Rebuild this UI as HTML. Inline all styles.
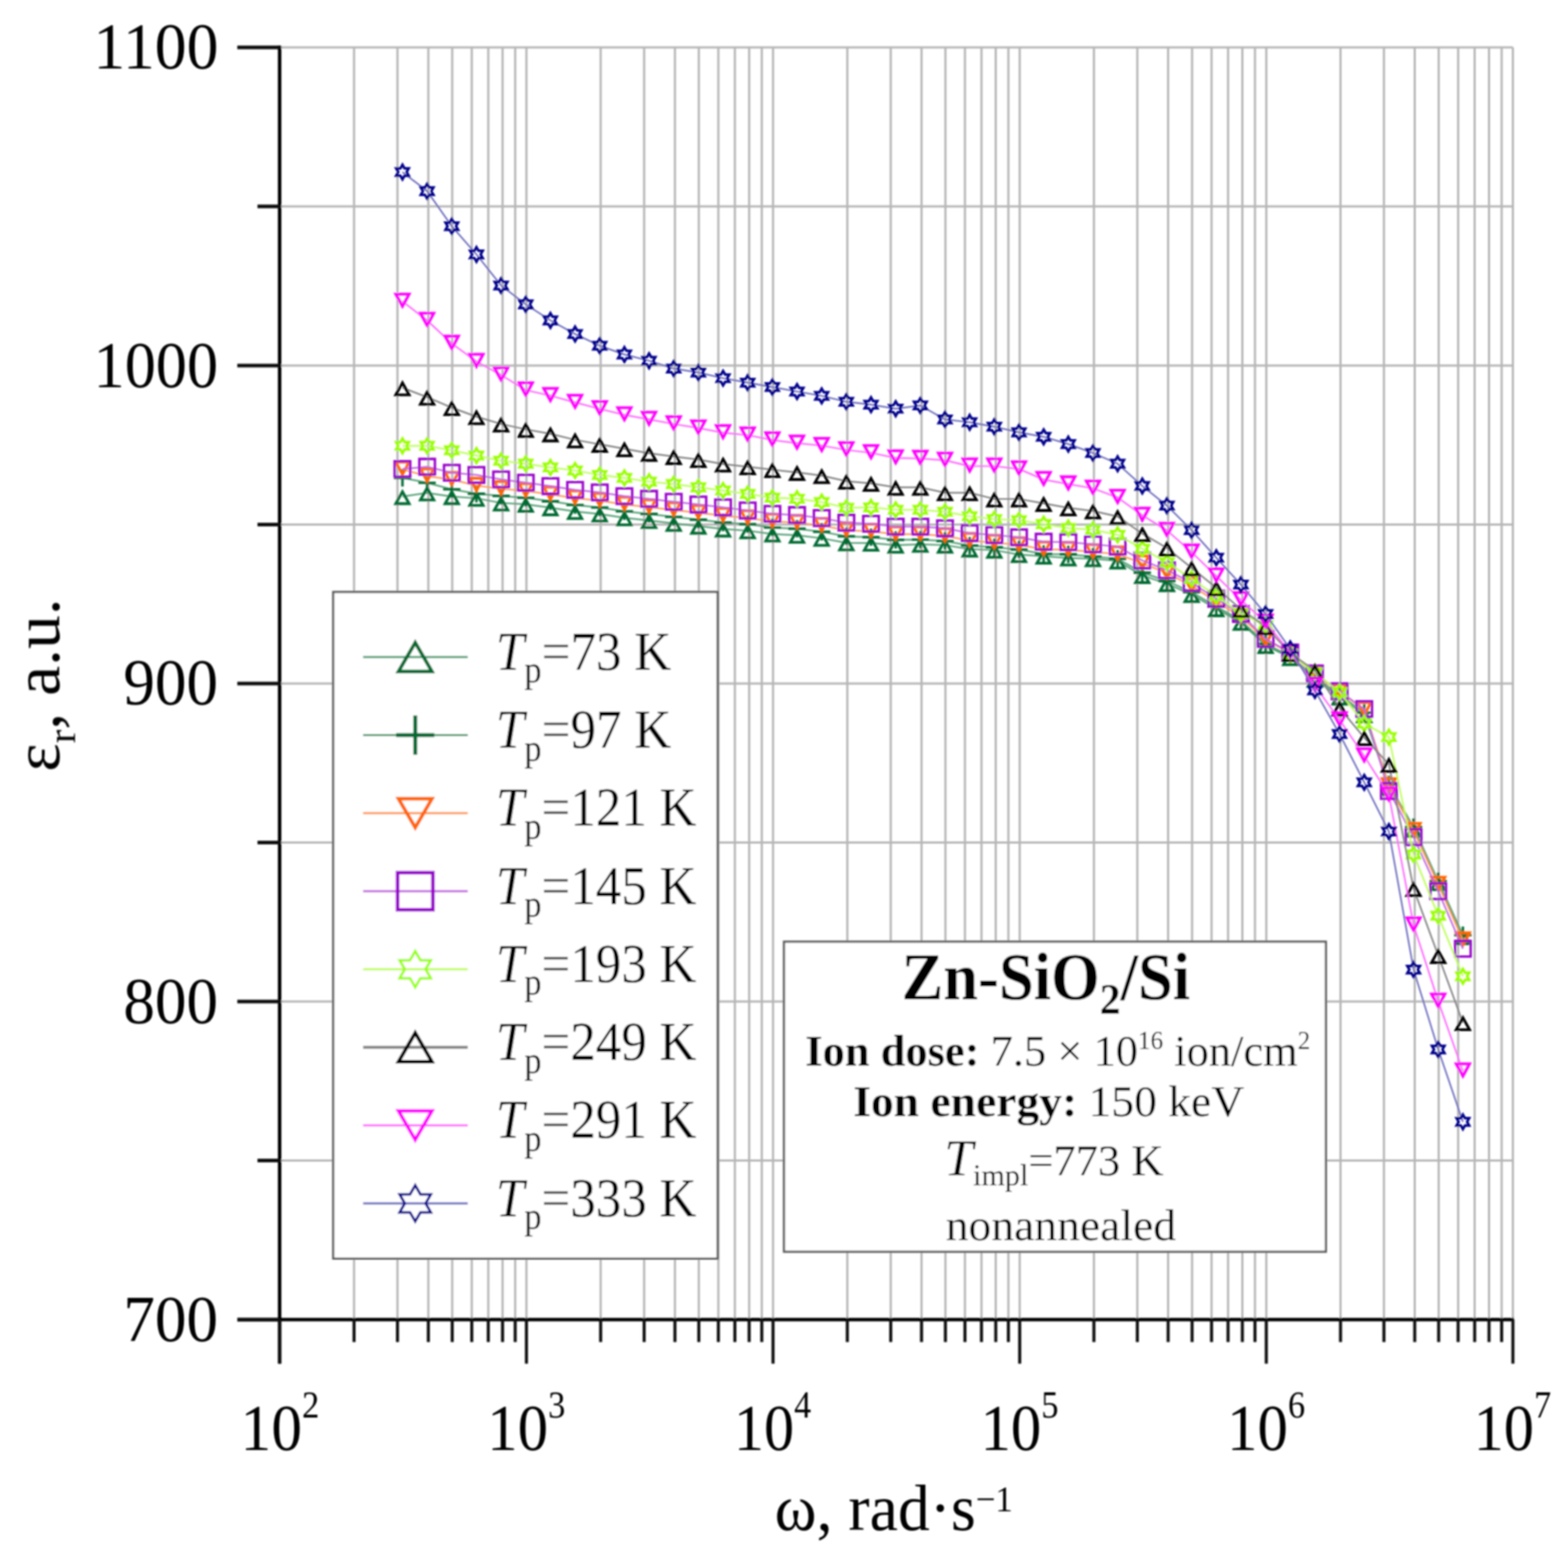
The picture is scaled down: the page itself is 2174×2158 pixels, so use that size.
<!DOCTYPE html><html><head><meta charset="utf-8"><style>html,body{margin:0;padding:0;background:#fff;overflow:hidden;width:2174px;height:2158px;}svg{display:block;}text{font-family:"Liberation Serif","Times New Roman",serif;}</style></head><body>
<svg width="2174" height="2158" viewBox="0 0 2174 2158">
<rect x="0" y="0" width="2174" height="2158" fill="#fff"/>
<defs><filter id="bl" filterUnits="userSpaceOnUse" x="0" y="0" width="2174" height="2158"><feGaussianBlur stdDeviation="1.0"/></filter></defs><g filter="url(#bl)">
<path d="M490.9 65.8V1830.2M551.1 65.8V1830.2M593.9 65.8V1830.2M627.0 65.8V1830.2M654.1 65.8V1830.2M677.0 65.8V1830.2M696.8 65.8V1830.2M714.3 65.8V1830.2M729.9 65.8V1830.2M832.8 65.8V1830.2M893.1 65.8V1830.2M935.8 65.8V1830.2M968.9 65.8V1830.2M996.0 65.8V1830.2M1018.9 65.8V1830.2M1038.7 65.8V1830.2M1056.2 65.8V1830.2M1071.8 65.8V1830.2M1174.8 65.8V1830.2M1235.0 65.8V1830.2M1277.7 65.8V1830.2M1310.8 65.8V1830.2M1337.9 65.8V1830.2M1360.8 65.8V1830.2M1380.6 65.8V1830.2M1398.1 65.8V1830.2M1413.8 65.8V1830.2M1516.7 65.8V1830.2M1576.9 65.8V1830.2M1619.6 65.8V1830.2M1652.8 65.8V1830.2M1679.8 65.8V1830.2M1702.7 65.8V1830.2M1722.5 65.8V1830.2M1740.0 65.8V1830.2M1755.7 65.8V1830.2M1858.6 65.8V1830.2M1918.8 65.8V1830.2M1961.5 65.8V1830.2M1994.7 65.8V1830.2M2021.7 65.8V1830.2M2044.6 65.8V1830.2M2064.5 65.8V1830.2M2082.0 65.8V1830.2M2097.6 65.8V1830.2M388.0 1609.6H2097.6M388.0 1389.1H2097.6M388.0 1168.5H2097.6M388.0 948.0H2097.6M388.0 727.4H2097.6M388.0 506.9H2097.6M388.0 286.3H2097.6M388.0 65.8H2097.6" stroke="#b6b6b6" stroke-width="3.0" fill="none"/>
<path d="M387.7 63.3V1891.1999999999998M329.0 1830.2H2099.1000000000004" stroke="#000" stroke-width="4.8" fill="none"/>
<path d="M329.0 1830.2H388.0M329.0 1389.1H388.0M329.0 948.0H388.0M329.0 506.9H388.0M329.0 65.8H388.0M357.0 1609.6H388.0M357.0 1168.5H388.0M357.0 727.4H388.0M357.0 286.3H388.0" stroke="#111" stroke-width="5" fill="none"/>
<path d="M388.0 1830.2V1891.2M729.9 1830.2V1891.2M1071.8 1830.2V1891.2M1413.8 1830.2V1891.2M1755.7 1830.2V1891.2M2097.6 1830.2V1891.2M490.9 1830.2V1861.2M551.1 1830.2V1861.2M593.9 1830.2V1861.2M627.0 1830.2V1861.2M654.1 1830.2V1861.2M677.0 1830.2V1861.2M696.8 1830.2V1861.2M714.3 1830.2V1861.2M832.8 1830.2V1861.2M893.1 1830.2V1861.2M935.8 1830.2V1861.2M968.9 1830.2V1861.2M996.0 1830.2V1861.2M1018.9 1830.2V1861.2M1038.7 1830.2V1861.2M1056.2 1830.2V1861.2M1174.8 1830.2V1861.2M1235.0 1830.2V1861.2M1277.7 1830.2V1861.2M1310.8 1830.2V1861.2M1337.9 1830.2V1861.2M1360.8 1830.2V1861.2M1380.6 1830.2V1861.2M1398.1 1830.2V1861.2M1516.7 1830.2V1861.2M1576.9 1830.2V1861.2M1619.6 1830.2V1861.2M1652.8 1830.2V1861.2M1679.8 1830.2V1861.2M1702.7 1830.2V1861.2M1722.5 1830.2V1861.2M1740.0 1830.2V1861.2M1858.6 1830.2V1861.2M1918.8 1830.2V1861.2M1961.5 1830.2V1861.2M1994.7 1830.2V1861.2M2021.7 1830.2V1861.2M2044.6 1830.2V1861.2M2064.5 1830.2V1861.2M2082.0 1830.2V1861.2" stroke="#111" stroke-width="4.2" fill="none"/>
<text x="170.94" y="1859.70" font-size="92" transform="translate(170.94 0) scale(0.9523 1) translate(-170.94 0)">700</text>
<text x="170.94" y="1418.60" font-size="92" transform="translate(170.94 0) scale(0.9523 1) translate(-170.94 0)">800</text>
<text x="170.94" y="977.50" font-size="92" transform="translate(170.94 0) scale(0.9523 1) translate(-170.94 0)">900</text>
<text x="129.80" y="536.70" font-size="92" transform="translate(129.80 0) scale(0.9376 1) translate(-129.80 0)">1000</text>
<text x="129.52" y="95.30" font-size="92" transform="translate(129.52 0) scale(0.9604 1) translate(-129.52 0)">1100</text>
<text x="333.60" y="2011.00" font-size="92" transform="translate(333.60 0) scale(0.9252 1) translate(-333.60 0)">10<tspan dy="-44.7" font-size="52">2</tspan></text>
<text x="675.59" y="2011.00" font-size="92" transform="translate(675.59 0) scale(0.9167 1) translate(-675.59 0)">10<tspan dy="-44.7" font-size="52">3</tspan></text>
<text x="1017.57" y="2011.00" font-size="92" transform="translate(1017.57 0) scale(0.9083 1) translate(-1017.57 0)">10<tspan dy="-44.7" font-size="52">4</tspan></text>
<text x="1359.43" y="2011.00" font-size="92" transform="translate(1359.43 0) scale(0.9167 1) translate(-1359.43 0)">10<tspan dy="-44.7" font-size="52">5</tspan></text>
<text x="1701.35" y="2011.00" font-size="92" transform="translate(1701.35 0) scale(0.9167 1) translate(-1701.35 0)">10<tspan dy="-44.7" font-size="52">6</tspan></text>
<text x="2043.33" y="2011.00" font-size="92" transform="translate(2043.33 0) scale(0.9083 1) translate(-2043.33 0)">10<tspan dy="-44.7" font-size="52">7</tspan></text>
<text x="1074.12" y="2121.80" font-size="91" transform="translate(1074.12 0) scale(0.9701 1) translate(-1074.12 0)">ω, rad·s<tspan dy="-26" font-size="50">−1</tspan></text>
<text transform="translate(82 950) rotate(-90) scale(1.03 1)" font-size="91" text-anchor="middle">ε<tspan dy="22" font-size="55">r</tspan><tspan dy="-22">, a.u.</tspan></text>
<polyline points="558.0,688.7 592.2,683.6 626.4,688.7 660.6,691.0 694.8,697.5 729.0,699.4 763.2,704.2 797.3,709.4 831.5,712.9 865.7,718.1 899.9,721.8 934.1,725.9 968.3,729.7 1002.5,733.7 1036.7,736.0 1070.9,740.6 1105.1,742.3 1139.3,746.5 1173.5,752.8 1207.6,753.2 1241.8,756.1 1276.0,754.9 1310.2,756.0 1344.4,761.5 1378.6,763.0 1412.8,769.1 1447.0,771.3 1481.2,773.8 1515.4,774.9 1549.6,778.0 1583.8,798.2 1618.0,809.5 1652.1,824.6 1686.3,844.2 1720.5,863.2 1754.7,895.3 1788.9,912.0 1823.1,942.0 1857.3,966.7 1891.5,991.4 1925.7,1092.0 1959.9,1150.0 1994.1,1224.0 2028.3,1299.0" fill="none" stroke="#4f9e72" stroke-width="2.2"/>
<path d="M558.00 681.89L567.30 698.49L548.70 698.49ZM592.19 676.79L601.49 693.39L582.89 693.39ZM626.38 681.89L635.68 698.49L617.08 698.49ZM660.58 684.19L669.88 700.79L651.28 700.79ZM694.77 690.69L704.07 707.29L685.47 707.29ZM728.96 692.59L738.26 709.19L719.66 709.19ZM763.15 697.39L772.45 713.99L753.85 713.99ZM797.34 702.59L806.64 719.19L788.04 719.19ZM831.54 706.09L840.84 722.69L822.24 722.69ZM865.73 711.29L875.03 727.89L856.43 727.89ZM899.92 714.99L909.22 731.59L890.62 731.59ZM934.11 719.09L943.41 735.69L924.81 735.69ZM968.30 722.89L977.60 739.49L959.00 739.49ZM1002.50 726.89L1011.80 743.49L993.20 743.49ZM1036.69 729.19L1045.99 745.79L1027.39 745.79ZM1070.88 733.79L1080.18 750.39L1061.58 750.39ZM1105.07 735.49L1114.37 752.09L1095.77 752.09ZM1139.26 739.69L1148.56 756.29L1129.96 756.29ZM1173.46 745.99L1182.76 762.59L1164.16 762.59ZM1207.65 746.43L1216.95 763.03L1198.35 763.03ZM1241.84 749.26L1251.14 765.86L1232.54 765.86ZM1276.03 748.09L1285.33 764.69L1266.73 764.69ZM1310.22 749.23L1319.52 765.83L1300.92 765.83ZM1344.42 754.66L1353.72 771.26L1335.12 771.26ZM1378.61 756.19L1387.91 772.79L1369.31 772.79ZM1412.80 762.29L1422.10 778.89L1403.50 778.89ZM1446.99 764.49L1456.29 781.09L1437.69 781.09ZM1481.18 766.99L1490.48 783.59L1471.88 783.59ZM1515.38 768.09L1524.68 784.69L1506.08 784.69ZM1549.57 771.19L1558.87 787.79L1540.27 787.79ZM1583.76 791.39L1593.06 807.99L1574.46 807.99ZM1617.95 802.66L1627.25 819.26L1608.65 819.26ZM1652.14 817.83L1661.44 834.43L1642.84 834.43ZM1686.34 837.39L1695.64 853.99L1677.04 853.99ZM1720.53 856.36L1729.83 872.96L1711.23 872.96ZM1754.72 888.53L1764.02 905.13L1745.42 905.13ZM1788.91 905.19L1798.21 921.79L1779.61 921.79ZM1823.10 935.19L1832.40 951.79L1813.80 951.79ZM1857.30 959.89L1866.60 976.49L1848.00 976.49ZM1891.49 984.59L1900.79 1001.19L1882.19 1001.19ZM1925.68 1085.19L1934.98 1101.79L1916.38 1101.79ZM1959.87 1143.19L1969.17 1159.79L1950.57 1159.79ZM1994.06 1217.19L2003.36 1233.79L1984.76 1233.79ZM2028.26 1292.19L2037.56 1308.79L2018.96 1308.79Z" fill="none" stroke="#006a33" stroke-width="3.8"/>
<polyline points="558.0,662.7 592.2,669.6 626.4,678.6 660.6,684.7 694.8,687.8 729.0,690.4 763.2,695.2 797.3,700.4 831.5,703.9 865.7,709.1 899.9,712.8 934.1,716.9 968.3,720.7 1002.5,724.7 1036.7,727.0 1070.9,731.6 1105.1,733.3 1139.3,737.5 1173.5,743.8 1207.6,745.1 1241.8,748.7 1276.0,748.4 1310.2,750.4 1344.4,756.6 1378.6,759.0 1412.8,762.1 1447.0,768.3 1481.2,768.8 1515.4,771.9 1549.6,775.0 1583.8,794.2 1618.0,805.8 1652.1,821.3 1686.3,841.2 1720.5,860.5 1754.7,893.0 1788.9,910.0 1823.1,939.0 1857.3,963.7 1891.5,988.4 1925.7,1088.0 1959.9,1147.0 1994.1,1222.0 2028.3,1297.0" fill="none" stroke="#4f9e72" stroke-width="2.2"/>
<path d="M546.00 662.70H570.00M558.00 650.70V674.70M580.19 669.60H604.19M592.19 657.60V681.60M614.38 678.60H638.38M626.38 666.60V690.60M648.58 684.70H672.58M660.58 672.70V696.70M682.77 687.80H706.77M694.77 675.80V699.80M716.96 690.40H740.96M728.96 678.40V702.40M751.15 695.20H775.15M763.15 683.20V707.20M785.34 700.40H809.34M797.34 688.40V712.40M819.54 703.90H843.54M831.54 691.90V715.90M853.73 709.10H877.73M865.73 697.10V721.10M887.92 712.80H911.92M899.92 700.80V724.80M922.11 716.90H946.11M934.11 704.90V728.90M956.30 720.70H980.30M968.30 708.70V732.70M990.50 724.70H1014.50M1002.50 712.70V736.70M1024.69 727.00H1048.69M1036.69 715.00V739.00M1058.88 731.60H1082.88M1070.88 719.60V743.60M1093.07 733.30H1117.07M1105.07 721.30V745.30M1127.26 737.50H1151.26M1139.26 725.50V749.50M1161.46 743.80H1185.46M1173.46 731.80V755.80M1195.65 745.07H1219.65M1207.65 733.07V757.07M1229.84 748.73H1253.84M1241.84 736.73V760.73M1264.03 748.40H1288.03M1276.03 736.40V760.40M1298.22 750.37H1322.22M1310.22 738.37V762.37M1332.42 756.63H1356.42M1344.42 744.63V768.63M1366.61 759.00H1390.61M1378.61 747.00V771.00M1400.80 762.10H1424.80M1412.80 750.10V774.10M1434.99 768.30H1458.99M1446.99 756.30V780.30M1469.18 768.80H1493.18M1481.18 756.80V780.80M1503.38 771.90H1527.38M1515.38 759.90V783.90M1537.57 775.00H1561.57M1549.57 763.00V787.00M1571.76 794.20H1595.76M1583.76 782.20V806.20M1605.95 805.80H1629.95M1617.95 793.80V817.80M1640.14 821.30H1664.14M1652.14 809.30V833.30M1674.34 841.20H1698.34M1686.34 829.20V853.20M1708.53 860.50H1732.53M1720.53 848.50V872.50M1742.72 893.00H1766.72M1754.72 881.00V905.00M1776.91 910.00H1800.91M1788.91 898.00V922.00M1811.10 939.00H1835.10M1823.10 927.00V951.00M1845.30 963.70H1869.30M1857.30 951.70V975.70M1879.49 988.40H1903.49M1891.49 976.40V1000.40M1913.68 1088.00H1937.68M1925.68 1076.00V1100.00M1947.87 1147.00H1971.87M1959.87 1135.00V1159.00M1982.06 1222.00H2006.06M1994.06 1210.00V1234.00M2016.26 1297.00H2040.26M2028.26 1285.00V1309.00" fill="none" stroke="#006a33" stroke-width="3.4"/>
<polyline points="558.0,651.0 592.2,660.3 626.4,665.1 660.6,673.3 694.8,678.0 729.0,680.9 763.2,685.7 797.3,690.9 831.5,694.4 865.7,699.6 899.9,703.3 934.1,707.4 968.3,711.2 1002.5,715.2 1036.7,718.5 1070.9,723.1 1105.1,724.8 1139.3,729.0 1173.5,735.3 1207.6,736.9 1241.8,740.9 1276.0,740.9 1310.2,743.2 1344.4,749.8 1378.6,752.5 1412.8,755.6 1447.0,761.8 1481.2,762.3 1515.4,765.4 1549.6,768.5 1583.8,781.2 1618.0,794.8 1652.1,812.3 1686.3,834.2 1720.5,855.5 1754.7,887.0 1788.9,906.0 1823.1,935.0 1857.3,959.7 1891.5,984.4 1925.7,1090.0 1959.9,1152.0 1994.1,1226.6 2028.3,1303.8" fill="none" stroke="#ff9955" stroke-width="2.2"/>
<path d="M558.00 657.97L567.30 640.97L548.70 640.97ZM592.19 667.27L601.49 650.27L582.89 650.27ZM626.38 672.07L635.68 655.07L617.08 655.07ZM660.58 680.27L669.88 663.27L651.28 663.27ZM694.77 684.97L704.07 667.97L685.47 667.97ZM728.96 687.87L738.26 670.87L719.66 670.87ZM763.15 692.67L772.45 675.67L753.85 675.67ZM797.34 697.87L806.64 680.87L788.04 680.87ZM831.54 701.37L840.84 684.37L822.24 684.37ZM865.73 706.57L875.03 689.57L856.43 689.57ZM899.92 710.27L909.22 693.27L890.62 693.27ZM934.11 714.37L943.41 697.37L924.81 697.37ZM968.30 718.17L977.60 701.17L959.00 701.17ZM1002.50 722.17L1011.80 705.17L993.20 705.17ZM1036.69 725.47L1045.99 708.47L1027.39 708.47ZM1070.88 730.07L1080.18 713.07L1061.58 713.07ZM1105.07 731.77L1114.37 714.77L1095.77 714.77ZM1139.26 735.97L1148.56 718.97L1129.96 718.97ZM1173.46 742.27L1182.76 725.27L1164.16 725.27ZM1207.65 743.87L1216.95 726.87L1198.35 726.87ZM1241.84 747.87L1251.14 730.87L1232.54 730.87ZM1276.03 747.87L1285.33 730.87L1266.73 730.87ZM1310.22 750.17L1319.52 733.17L1300.92 733.17ZM1344.42 756.77L1353.72 739.77L1335.12 739.77ZM1378.61 759.47L1387.91 742.47L1369.31 742.47ZM1412.80 762.57L1422.10 745.57L1403.50 745.57ZM1446.99 768.77L1456.29 751.77L1437.69 751.77ZM1481.18 769.27L1490.48 752.27L1471.88 752.27ZM1515.38 772.37L1524.68 755.37L1506.08 755.37ZM1549.57 775.47L1558.87 758.47L1540.27 758.47ZM1583.76 788.17L1593.06 771.17L1574.46 771.17ZM1617.95 801.77L1627.25 784.77L1608.65 784.77ZM1652.14 819.27L1661.44 802.27L1642.84 802.27ZM1686.34 841.17L1695.64 824.17L1677.04 824.17ZM1720.53 862.47L1729.83 845.47L1711.23 845.47ZM1754.72 893.97L1764.02 876.97L1745.42 876.97ZM1788.91 912.97L1798.21 895.97L1779.61 895.97ZM1823.10 941.97L1832.40 924.97L1813.80 924.97ZM1857.30 966.67L1866.60 949.67L1848.00 949.67ZM1891.49 991.37L1900.79 974.37L1882.19 974.37ZM1925.68 1096.97L1934.98 1079.97L1916.38 1079.97ZM1959.87 1158.97L1969.17 1141.97L1950.57 1141.97ZM1994.06 1233.57L2003.36 1216.57L1984.76 1216.57ZM2028.26 1310.77L2037.56 1293.77L2018.96 1293.77Z" fill="none" stroke="#ff6600" stroke-width="3.8"/>
<polyline points="558.0,650.4 592.2,647.3 626.4,655.6 660.6,658.7 694.8,664.9 729.0,669.4 763.2,674.2 797.3,679.4 831.5,682.9 865.7,688.1 899.9,691.8 934.1,695.9 968.3,699.7 1002.5,703.7 1036.7,708.0 1070.9,712.6 1105.1,714.3 1139.3,718.5 1173.5,724.8 1207.6,726.4 1241.8,730.4 1276.0,730.4 1310.2,732.7 1344.4,739.3 1378.6,742.0 1412.8,745.1 1447.0,751.3 1481.2,751.8 1515.4,754.9 1549.6,758.0 1583.8,777.2 1618.0,790.8 1652.1,808.3 1686.3,830.2 1720.5,851.5 1754.7,886.0 1788.9,905.0 1823.1,934.0 1857.3,958.7 1891.5,983.4 1925.7,1097.0 1959.9,1161.0 1994.1,1236.0 2028.3,1315.8" fill="none" stroke="#c266e0" stroke-width="2.2"/>
<path d="M547.20 639.60H568.80V661.20H547.20ZM581.39 636.50H602.99V658.10H581.39ZM615.58 644.80H637.18V666.40H615.58ZM649.78 647.90H671.38V669.50H649.78ZM683.97 654.10H705.57V675.70H683.97ZM718.16 658.60H739.76V680.20H718.16ZM752.35 663.40H773.95V685.00H752.35ZM786.54 668.60H808.14V690.20H786.54ZM820.74 672.10H842.34V693.70H820.74ZM854.93 677.30H876.53V698.90H854.93ZM889.12 681.00H910.72V702.60H889.12ZM923.31 685.10H944.91V706.70H923.31ZM957.50 688.90H979.10V710.50H957.50ZM991.70 692.90H1013.30V714.50H991.70ZM1025.89 697.20H1047.49V718.80H1025.89ZM1060.08 701.80H1081.68V723.40H1060.08ZM1094.27 703.50H1115.87V725.10H1094.27ZM1128.46 707.70H1150.06V729.30H1128.46ZM1162.66 714.00H1184.26V735.60H1162.66ZM1196.85 715.60H1218.45V737.20H1196.85ZM1231.04 719.60H1252.64V741.20H1231.04ZM1265.23 719.60H1286.83V741.20H1265.23ZM1299.42 721.90H1321.02V743.50H1299.42ZM1333.62 728.50H1355.22V750.10H1333.62ZM1367.81 731.20H1389.41V752.80H1367.81ZM1402.00 734.30H1423.60V755.90H1402.00ZM1436.19 740.50H1457.79V762.10H1436.19ZM1470.38 741.00H1491.98V762.60H1470.38ZM1504.58 744.10H1526.18V765.70H1504.58ZM1538.77 747.20H1560.37V768.80H1538.77ZM1572.96 766.40H1594.56V788.00H1572.96ZM1607.15 780.00H1628.75V801.60H1607.15ZM1641.34 797.50H1662.94V819.10H1641.34ZM1675.54 819.40H1697.14V841.00H1675.54ZM1709.73 840.70H1731.33V862.30H1709.73ZM1743.92 875.20H1765.52V896.80H1743.92ZM1778.11 894.20H1799.71V915.80H1778.11ZM1812.30 923.20H1833.90V944.80H1812.30ZM1846.50 947.90H1868.10V969.50H1846.50ZM1880.69 972.60H1902.29V994.20H1880.69ZM1914.88 1086.20H1936.48V1107.80H1914.88ZM1949.07 1150.20H1970.67V1171.80H1949.07ZM1983.26 1225.20H2004.86V1246.80H1983.26ZM2017.46 1305.00H2039.06V1326.60H2017.46Z" fill="none" stroke="#9900cc" stroke-width="3.3"/>
<polyline points="558.0,618.3 592.2,618.3 626.4,624.5 660.6,631.8 694.8,639.0 729.0,643.1 763.2,648.3 797.3,652.5 831.5,658.7 865.7,662.8 899.9,668.0 934.1,671.4 968.3,675.9 1002.5,680.3 1036.7,685.0 1070.9,690.3 1105.1,691.7 1139.3,696.3 1173.5,704.3 1207.6,703.7 1241.8,707.0 1276.0,707.0 1310.2,709.8 1344.4,716.0 1378.6,720.0 1412.8,721.5 1447.0,726.9 1481.2,732.4 1515.4,734.7 1549.6,741.7 1583.8,761.0 1618.0,780.0 1652.1,802.7 1686.3,826.4 1720.5,851.0 1754.7,867.0 1788.9,907.0 1823.1,932.6 1857.3,960.0 1891.5,1003.5 1925.7,1022.3 1959.9,1185.0 1994.1,1270.0 2028.3,1354.0" fill="none" stroke="#bbff55" stroke-width="2.2"/>
<path d="M558.00 608.20L560.92 613.25L566.75 613.25L563.83 618.30L566.75 623.35L560.92 623.35L558.00 628.40L555.08 623.35L549.25 623.35L552.17 618.30L549.25 613.25L555.08 613.25ZM592.19 608.20L595.11 613.25L600.94 613.25L598.02 618.30L600.94 623.35L595.11 623.35L592.19 628.40L589.28 623.35L583.45 623.35L586.36 618.30L583.45 613.25L589.28 613.25ZM626.38 614.40L629.30 619.45L635.13 619.45L632.22 624.50L635.13 629.55L629.30 629.55L626.38 634.60L623.47 629.55L617.64 629.55L620.55 624.50L617.64 619.45L623.47 619.45ZM660.58 621.70L663.49 626.75L669.32 626.75L666.41 631.80L669.32 636.85L663.49 636.85L660.58 641.90L657.66 636.85L651.83 636.85L654.74 631.80L651.83 626.75L657.66 626.75ZM694.77 628.90L697.68 633.95L703.51 633.95L700.60 639.00L703.51 644.05L697.68 644.05L694.77 649.10L691.85 644.05L686.02 644.05L688.94 639.00L686.02 633.95L691.85 633.95ZM728.96 633.00L731.88 638.05L737.71 638.05L734.79 643.10L737.71 648.15L731.88 648.15L728.96 653.20L726.04 648.15L720.21 648.15L723.13 643.10L720.21 638.05L726.04 638.05ZM763.15 638.20L766.07 643.25L771.90 643.25L768.98 648.30L771.90 653.35L766.07 653.35L763.15 658.40L760.24 653.35L754.41 653.35L757.32 648.30L754.41 643.25L760.24 643.25ZM797.34 642.40L800.26 647.45L806.09 647.45L803.18 652.50L806.09 657.55L800.26 657.55L797.34 662.60L794.43 657.55L788.60 657.55L791.51 652.50L788.60 647.45L794.43 647.45ZM831.54 648.60L834.45 653.65L840.28 653.65L837.37 658.70L840.28 663.75L834.45 663.75L831.54 668.80L828.62 663.75L822.79 663.75L825.70 658.70L822.79 653.65L828.62 653.65ZM865.73 652.70L868.64 657.75L874.47 657.75L871.56 662.80L874.47 667.85L868.64 667.85L865.73 672.90L862.81 667.85L856.98 667.85L859.90 662.80L856.98 657.75L862.81 657.75ZM899.92 657.90L902.84 662.95L908.67 662.95L905.75 668.00L908.67 673.05L902.84 673.05L899.92 678.10L897.00 673.05L891.17 673.05L894.09 668.00L891.17 662.95L897.00 662.95ZM934.11 661.30L937.03 666.35L942.86 666.35L939.94 671.40L942.86 676.45L937.03 676.45L934.11 681.50L931.20 676.45L925.37 676.45L928.28 671.40L925.37 666.35L931.20 666.35ZM968.30 665.80L971.22 670.85L977.05 670.85L974.14 675.90L977.05 680.95L971.22 680.95L968.30 686.00L965.39 680.95L959.56 680.95L962.47 675.90L959.56 670.85L965.39 670.85ZM1002.50 670.20L1005.41 675.25L1011.24 675.25L1008.33 680.30L1011.24 685.35L1005.41 685.35L1002.50 690.40L999.58 685.35L993.75 685.35L996.66 680.30L993.75 675.25L999.58 675.25ZM1036.69 674.90L1039.60 679.95L1045.43 679.95L1042.52 685.00L1045.43 690.05L1039.60 690.05L1036.69 695.10L1033.77 690.05L1027.94 690.05L1030.86 685.00L1027.94 679.95L1033.77 679.95ZM1070.88 680.20L1073.80 685.25L1079.63 685.25L1076.71 690.30L1079.63 695.35L1073.80 695.35L1070.88 700.40L1067.96 695.35L1062.13 695.35L1065.05 690.30L1062.13 685.25L1067.96 685.25ZM1105.07 681.60L1107.99 686.65L1113.82 686.65L1110.90 691.70L1113.82 696.75L1107.99 696.75L1105.07 701.80L1102.16 696.75L1096.33 696.75L1099.24 691.70L1096.33 686.65L1102.16 686.65ZM1139.26 686.20L1142.18 691.25L1148.01 691.25L1145.10 696.30L1148.01 701.35L1142.18 701.35L1139.26 706.40L1136.35 701.35L1130.52 701.35L1133.43 696.30L1130.52 691.25L1136.35 691.25ZM1173.46 694.20L1176.37 699.25L1182.20 699.25L1179.29 704.30L1182.20 709.35L1176.37 709.35L1173.46 714.40L1170.54 709.35L1164.71 709.35L1167.62 704.30L1164.71 699.25L1170.54 699.25ZM1207.65 693.60L1210.56 698.65L1216.39 698.65L1213.48 703.70L1216.39 708.75L1210.56 708.75L1207.65 713.80L1204.73 708.75L1198.90 708.75L1201.82 703.70L1198.90 698.65L1204.73 698.65ZM1241.84 696.90L1244.76 701.95L1250.59 701.95L1247.67 707.00L1250.59 712.05L1244.76 712.05L1241.84 717.10L1238.92 712.05L1233.09 712.05L1236.01 707.00L1233.09 701.95L1238.92 701.95ZM1276.03 696.90L1278.95 701.95L1284.78 701.95L1281.86 707.00L1284.78 712.05L1278.95 712.05L1276.03 717.10L1273.12 712.05L1267.29 712.05L1270.20 707.00L1267.29 701.95L1273.12 701.95ZM1310.22 699.70L1313.14 704.75L1318.97 704.75L1316.06 709.80L1318.97 714.85L1313.14 714.85L1310.22 719.90L1307.31 714.85L1301.48 714.85L1304.39 709.80L1301.48 704.75L1307.31 704.75ZM1344.42 705.90L1347.33 710.95L1353.16 710.95L1350.25 716.00L1353.16 721.05L1347.33 721.05L1344.42 726.10L1341.50 721.05L1335.67 721.05L1338.58 716.00L1335.67 710.95L1341.50 710.95ZM1378.61 709.90L1381.52 714.95L1387.35 714.95L1384.44 720.00L1387.35 725.05L1381.52 725.05L1378.61 730.10L1375.69 725.05L1369.86 725.05L1372.78 720.00L1369.86 714.95L1375.69 714.95ZM1412.80 711.40L1415.72 716.45L1421.55 716.45L1418.63 721.50L1421.55 726.55L1415.72 726.55L1412.80 731.60L1409.88 726.55L1404.05 726.55L1406.97 721.50L1404.05 716.45L1409.88 716.45ZM1446.99 716.80L1449.91 721.85L1455.74 721.85L1452.82 726.90L1455.74 731.95L1449.91 731.95L1446.99 737.00L1444.08 731.95L1438.25 731.95L1441.16 726.90L1438.25 721.85L1444.08 721.85ZM1481.18 722.30L1484.10 727.35L1489.93 727.35L1487.02 732.40L1489.93 737.45L1484.10 737.45L1481.18 742.50L1478.27 737.45L1472.44 737.45L1475.35 732.40L1472.44 727.35L1478.27 727.35ZM1515.38 724.60L1518.29 729.65L1524.12 729.65L1521.21 734.70L1524.12 739.75L1518.29 739.75L1515.38 744.80L1512.46 739.75L1506.63 739.75L1509.54 734.70L1506.63 729.65L1512.46 729.65ZM1549.57 731.60L1552.48 736.65L1558.31 736.65L1555.40 741.70L1558.31 746.75L1552.48 746.75L1549.57 751.80L1546.65 746.75L1540.82 746.75L1543.74 741.70L1540.82 736.65L1546.65 736.65ZM1583.76 750.90L1586.68 755.95L1592.51 755.95L1589.59 761.00L1592.51 766.05L1586.68 766.05L1583.76 771.10L1580.84 766.05L1575.01 766.05L1577.93 761.00L1575.01 755.95L1580.84 755.95ZM1617.95 769.90L1620.87 774.95L1626.70 774.95L1623.78 780.00L1626.70 785.05L1620.87 785.05L1617.95 790.10L1615.04 785.05L1609.21 785.05L1612.12 780.00L1609.21 774.95L1615.04 774.95ZM1652.14 792.60L1655.06 797.65L1660.89 797.65L1657.98 802.70L1660.89 807.75L1655.06 807.75L1652.14 812.80L1649.23 807.75L1643.40 807.75L1646.31 802.70L1643.40 797.65L1649.23 797.65ZM1686.34 816.30L1689.25 821.35L1695.08 821.35L1692.17 826.40L1695.08 831.45L1689.25 831.45L1686.34 836.50L1683.42 831.45L1677.59 831.45L1680.50 826.40L1677.59 821.35L1683.42 821.35ZM1720.53 840.90L1723.44 845.95L1729.27 845.95L1726.36 851.00L1729.27 856.05L1723.44 856.05L1720.53 861.10L1717.61 856.05L1711.78 856.05L1714.70 851.00L1711.78 845.95L1717.61 845.95ZM1754.72 856.90L1757.64 861.95L1763.47 861.95L1760.55 867.00L1763.47 872.05L1757.64 872.05L1754.72 877.10L1751.80 872.05L1745.97 872.05L1748.89 867.00L1745.97 861.95L1751.80 861.95ZM1788.91 896.90L1791.83 901.95L1797.66 901.95L1794.74 907.00L1797.66 912.05L1791.83 912.05L1788.91 917.10L1786.00 912.05L1780.17 912.05L1783.08 907.00L1780.17 901.95L1786.00 901.95ZM1823.10 922.50L1826.02 927.55L1831.85 927.55L1828.94 932.60L1831.85 937.65L1826.02 937.65L1823.10 942.70L1820.19 937.65L1814.36 937.65L1817.27 932.60L1814.36 927.55L1820.19 927.55ZM1857.30 949.90L1860.21 954.95L1866.04 954.95L1863.13 960.00L1866.04 965.05L1860.21 965.05L1857.30 970.10L1854.38 965.05L1848.55 965.05L1851.46 960.00L1848.55 954.95L1854.38 954.95ZM1891.49 993.40L1894.40 998.45L1900.23 998.45L1897.32 1003.50L1900.23 1008.55L1894.40 1008.55L1891.49 1013.60L1888.57 1008.55L1882.74 1008.55L1885.66 1003.50L1882.74 998.45L1888.57 998.45ZM1925.68 1012.20L1928.60 1017.25L1934.43 1017.25L1931.51 1022.30L1934.43 1027.35L1928.60 1027.35L1925.68 1032.40L1922.76 1027.35L1916.93 1027.35L1919.85 1022.30L1916.93 1017.25L1922.76 1017.25ZM1959.87 1174.90L1962.79 1179.95L1968.62 1179.95L1965.70 1185.00L1968.62 1190.05L1962.79 1190.05L1959.87 1195.10L1956.96 1190.05L1951.13 1190.05L1954.04 1185.00L1951.13 1179.95L1956.96 1179.95ZM1994.06 1259.90L1996.98 1264.95L2002.81 1264.95L1999.90 1270.00L2002.81 1275.05L1996.98 1275.05L1994.06 1280.10L1991.15 1275.05L1985.32 1275.05L1988.23 1270.00L1985.32 1264.95L1991.15 1264.95ZM2028.26 1343.90L2031.17 1348.95L2037.00 1348.95L2034.09 1354.00L2037.00 1359.05L2031.17 1359.05L2028.26 1364.10L2025.34 1359.05L2019.51 1359.05L2022.42 1354.00L2019.51 1348.95L2025.34 1348.95Z" fill="none" stroke="#99ff00" stroke-width="3.5"/>
<polyline points="558.0,537.8 592.2,550.8 626.4,565.4 660.6,577.9 694.8,588.0 729.0,595.5 763.2,601.7 797.3,610.0 831.5,616.2 865.7,622.4 899.9,628.7 934.1,633.2 968.3,637.4 1002.5,643.6 1036.7,647.4 1070.9,651.4 1105.1,655.2 1139.3,659.6 1173.5,667.4 1207.6,670.3 1241.8,675.9 1276.0,675.9 1310.2,683.4 1344.4,683.4 1378.6,692.0 1412.8,692.0 1447.0,698.2 1481.2,704.4 1515.4,708.6 1549.6,716.4 1583.8,740.1 1618.0,760.1 1652.1,787.6 1686.3,815.2 1720.5,845.0 1754.7,869.0 1788.9,906.0 1823.1,930.0 1857.3,982.0 1891.5,1023.0 1925.7,1060.0 1959.9,1232.4 1994.1,1325.2 2028.3,1418.3" fill="none" stroke="#808080" stroke-width="2.2"/>
<path d="M558.00 530.99L567.30 547.59L548.70 547.59ZM592.19 543.99L601.49 560.59L582.89 560.59ZM626.38 558.59L635.68 575.19L617.08 575.19ZM660.58 571.09L669.88 587.69L651.28 587.69ZM694.77 581.19L704.07 597.79L685.47 597.79ZM728.96 588.69L738.26 605.29L719.66 605.29ZM763.15 594.89L772.45 611.49L753.85 611.49ZM797.34 603.19L806.64 619.79L788.04 619.79ZM831.54 609.39L840.84 625.99L822.24 625.99ZM865.73 615.59L875.03 632.19L856.43 632.19ZM899.92 621.89L909.22 638.49L890.62 638.49ZM934.11 626.39L943.41 642.99L924.81 642.99ZM968.30 630.59L977.60 647.19L959.00 647.19ZM1002.50 636.79L1011.80 653.39L993.20 653.39ZM1036.69 640.59L1045.99 657.19L1027.39 657.19ZM1070.88 644.59L1080.18 661.19L1061.58 661.19ZM1105.07 648.39L1114.37 664.99L1095.77 664.99ZM1139.26 652.79L1148.56 669.39L1129.96 669.39ZM1173.46 660.59L1182.76 677.19L1164.16 677.19ZM1207.65 663.49L1216.95 680.09L1198.35 680.09ZM1241.84 669.09L1251.14 685.69L1232.54 685.69ZM1276.03 669.09L1285.33 685.69L1266.73 685.69ZM1310.22 676.59L1319.52 693.19L1300.92 693.19ZM1344.42 676.59L1353.72 693.19L1335.12 693.19ZM1378.61 685.19L1387.91 701.79L1369.31 701.79ZM1412.80 685.19L1422.10 701.79L1403.50 701.79ZM1446.99 691.39L1456.29 707.99L1437.69 707.99ZM1481.18 697.59L1490.48 714.19L1471.88 714.19ZM1515.38 701.79L1524.68 718.39L1506.08 718.39ZM1549.57 709.59L1558.87 726.19L1540.27 726.19ZM1583.76 733.29L1593.06 749.89L1574.46 749.89ZM1617.95 753.29L1627.25 769.89L1608.65 769.89ZM1652.14 780.79L1661.44 797.39L1642.84 797.39ZM1686.34 808.39L1695.64 824.99L1677.04 824.99ZM1720.53 838.19L1729.83 854.79L1711.23 854.79ZM1754.72 862.19L1764.02 878.79L1745.42 878.79ZM1788.91 899.19L1798.21 915.79L1779.61 915.79ZM1823.10 923.19L1832.40 939.79L1813.80 939.79ZM1857.30 975.19L1866.60 991.79L1848.00 991.79ZM1891.49 1016.19L1900.79 1032.79L1882.19 1032.79ZM1925.68 1053.19L1934.98 1069.79L1916.38 1069.79ZM1959.87 1225.59L1969.17 1242.19L1950.57 1242.19ZM1994.06 1318.39L2003.36 1334.99L1984.76 1334.99ZM2028.26 1411.49L2037.56 1428.09L2018.96 1428.09Z" fill="none" stroke="#000000" stroke-width="3.8"/>
<polyline points="558.0,417.9 592.2,444.4 626.4,476.3 660.6,501.4 694.8,520.1 729.0,541.0 763.2,548.7 797.3,558.1 831.5,567.0 865.7,575.4 899.9,581.7 934.1,588.0 968.3,593.7 1002.5,600.2 1036.7,603.5 1070.9,610.2 1105.1,614.7 1139.3,618.0 1173.5,624.0 1207.6,628.0 1241.8,635.1 1276.0,635.8 1310.2,638.4 1344.4,646.5 1378.6,646.5 1412.8,650.4 1447.0,665.1 1481.2,671.3 1515.4,677.2 1549.6,690.0 1583.8,714.7 1618.0,735.7 1652.1,765.8 1686.3,798.9 1720.5,832.0 1754.7,863.0 1788.9,905.0 1823.1,951.0 1857.3,998.5 1891.5,1048.5 1925.7,1102.6 1959.9,1283.0 1994.1,1388.7 2028.3,1485.5" fill="none" stroke="#ff66ff" stroke-width="2.2"/>
<path d="M558.00 424.87L567.30 407.87L548.70 407.87ZM592.19 451.37L601.49 434.37L582.89 434.37ZM626.38 483.27L635.68 466.27L617.08 466.27ZM660.58 508.37L669.88 491.37L651.28 491.37ZM694.77 527.07L704.07 510.07L685.47 510.07ZM728.96 547.97L738.26 530.97L719.66 530.97ZM763.15 555.67L772.45 538.67L753.85 538.67ZM797.34 565.07L806.64 548.07L788.04 548.07ZM831.54 573.97L840.84 556.97L822.24 556.97ZM865.73 582.37L875.03 565.37L856.43 565.37ZM899.92 588.67L909.22 571.67L890.62 571.67ZM934.11 594.97L943.41 577.97L924.81 577.97ZM968.30 600.67L977.60 583.67L959.00 583.67ZM1002.50 607.17L1011.80 590.17L993.20 590.17ZM1036.69 610.47L1045.99 593.47L1027.39 593.47ZM1070.88 617.17L1080.18 600.17L1061.58 600.17ZM1105.07 621.67L1114.37 604.67L1095.77 604.67ZM1139.26 624.97L1148.56 607.97L1129.96 607.97ZM1173.46 630.97L1182.76 613.97L1164.16 613.97ZM1207.65 634.97L1216.95 617.97L1198.35 617.97ZM1241.84 642.07L1251.14 625.07L1232.54 625.07ZM1276.03 642.77L1285.33 625.77L1266.73 625.77ZM1310.22 645.37L1319.52 628.37L1300.92 628.37ZM1344.42 653.47L1353.72 636.47L1335.12 636.47ZM1378.61 653.47L1387.91 636.47L1369.31 636.47ZM1412.80 657.37L1422.10 640.37L1403.50 640.37ZM1446.99 672.07L1456.29 655.07L1437.69 655.07ZM1481.18 678.27L1490.48 661.27L1471.88 661.27ZM1515.38 684.17L1524.68 667.17L1506.08 667.17ZM1549.57 696.97L1558.87 679.97L1540.27 679.97ZM1583.76 721.67L1593.06 704.67L1574.46 704.67ZM1617.95 742.67L1627.25 725.67L1608.65 725.67ZM1652.14 772.77L1661.44 755.77L1642.84 755.77ZM1686.34 805.87L1695.64 788.87L1677.04 788.87ZM1720.53 838.97L1729.83 821.97L1711.23 821.97ZM1754.72 869.97L1764.02 852.97L1745.42 852.97ZM1788.91 911.97L1798.21 894.97L1779.61 894.97ZM1823.10 957.97L1832.40 940.97L1813.80 940.97ZM1857.30 1005.47L1866.60 988.47L1848.00 988.47ZM1891.49 1055.47L1900.79 1038.47L1882.19 1038.47ZM1925.68 1109.57L1934.98 1092.57L1916.38 1092.57ZM1959.87 1289.97L1969.17 1272.97L1950.57 1272.97ZM1994.06 1395.67L2003.36 1378.67L1984.76 1378.67ZM2028.26 1492.47L2037.56 1475.47L2018.96 1475.47Z" fill="none" stroke="#ff00ff" stroke-width="3.8"/>
<polyline points="558.0,238.6 592.2,265.1 626.4,313.7 660.6,352.9 694.8,396.0 729.0,422.1 763.2,444.4 797.3,463.2 831.5,479.5 865.7,491.6 899.9,500.3 934.1,511.2 968.3,516.7 1002.5,524.5 1036.7,530.7 1070.9,536.8 1105.1,543.0 1139.3,549.0 1173.5,557.2 1207.6,561.2 1241.8,566.8 1276.0,562.3 1310.2,581.7 1344.4,585.6 1378.6,591.8 1412.8,599.6 1447.0,605.8 1481.2,615.9 1515.4,628.3 1549.6,643.1 1583.8,674.0 1618.0,701.3 1652.1,735.3 1686.3,773.5 1720.5,810.8 1754.7,851.6 1788.9,900.0 1823.1,957.5 1857.3,1018.0 1891.5,1085.0 1925.7,1153.3 1959.9,1344.7 1994.1,1455.5 2028.3,1555.9" fill="none" stroke="#6a6abf" stroke-width="2.2"/>
<path d="M558.00 228.50L560.92 233.55L566.75 233.55L563.83 238.60L566.75 243.65L560.92 243.65L558.00 248.70L555.08 243.65L549.25 243.65L552.17 238.60L549.25 233.55L555.08 233.55ZM592.19 255.00L595.11 260.05L600.94 260.05L598.02 265.10L600.94 270.15L595.11 270.15L592.19 275.20L589.28 270.15L583.45 270.15L586.36 265.10L583.45 260.05L589.28 260.05ZM626.38 303.60L629.30 308.65L635.13 308.65L632.22 313.70L635.13 318.75L629.30 318.75L626.38 323.80L623.47 318.75L617.64 318.75L620.55 313.70L617.64 308.65L623.47 308.65ZM660.58 342.80L663.49 347.85L669.32 347.85L666.41 352.90L669.32 357.95L663.49 357.95L660.58 363.00L657.66 357.95L651.83 357.95L654.74 352.90L651.83 347.85L657.66 347.85ZM694.77 385.90L697.68 390.95L703.51 390.95L700.60 396.00L703.51 401.05L697.68 401.05L694.77 406.10L691.85 401.05L686.02 401.05L688.94 396.00L686.02 390.95L691.85 390.95ZM728.96 412.00L731.88 417.05L737.71 417.05L734.79 422.10L737.71 427.15L731.88 427.15L728.96 432.20L726.04 427.15L720.21 427.15L723.13 422.10L720.21 417.05L726.04 417.05ZM763.15 434.30L766.07 439.35L771.90 439.35L768.98 444.40L771.90 449.45L766.07 449.45L763.15 454.50L760.24 449.45L754.41 449.45L757.32 444.40L754.41 439.35L760.24 439.35ZM797.34 453.10L800.26 458.15L806.09 458.15L803.18 463.20L806.09 468.25L800.26 468.25L797.34 473.30L794.43 468.25L788.60 468.25L791.51 463.20L788.60 458.15L794.43 458.15ZM831.54 469.40L834.45 474.45L840.28 474.45L837.37 479.50L840.28 484.55L834.45 484.55L831.54 489.60L828.62 484.55L822.79 484.55L825.70 479.50L822.79 474.45L828.62 474.45ZM865.73 481.50L868.64 486.55L874.47 486.55L871.56 491.60L874.47 496.65L868.64 496.65L865.73 501.70L862.81 496.65L856.98 496.65L859.90 491.60L856.98 486.55L862.81 486.55ZM899.92 490.20L902.84 495.25L908.67 495.25L905.75 500.30L908.67 505.35L902.84 505.35L899.92 510.40L897.00 505.35L891.17 505.35L894.09 500.30L891.17 495.25L897.00 495.25ZM934.11 501.10L937.03 506.15L942.86 506.15L939.94 511.20L942.86 516.25L937.03 516.25L934.11 521.30L931.20 516.25L925.37 516.25L928.28 511.20L925.37 506.15L931.20 506.15ZM968.30 506.60L971.22 511.65L977.05 511.65L974.14 516.70L977.05 521.75L971.22 521.75L968.30 526.80L965.39 521.75L959.56 521.75L962.47 516.70L959.56 511.65L965.39 511.65ZM1002.50 514.40L1005.41 519.45L1011.24 519.45L1008.33 524.50L1011.24 529.55L1005.41 529.55L1002.50 534.60L999.58 529.55L993.75 529.55L996.66 524.50L993.75 519.45L999.58 519.45ZM1036.69 520.60L1039.60 525.65L1045.43 525.65L1042.52 530.70L1045.43 535.75L1039.60 535.75L1036.69 540.80L1033.77 535.75L1027.94 535.75L1030.86 530.70L1027.94 525.65L1033.77 525.65ZM1070.88 526.70L1073.80 531.75L1079.63 531.75L1076.71 536.80L1079.63 541.85L1073.80 541.85L1070.88 546.90L1067.96 541.85L1062.13 541.85L1065.05 536.80L1062.13 531.75L1067.96 531.75ZM1105.07 532.90L1107.99 537.95L1113.82 537.95L1110.90 543.00L1113.82 548.05L1107.99 548.05L1105.07 553.10L1102.16 548.05L1096.33 548.05L1099.24 543.00L1096.33 537.95L1102.16 537.95ZM1139.26 538.90L1142.18 543.95L1148.01 543.95L1145.10 549.00L1148.01 554.05L1142.18 554.05L1139.26 559.10L1136.35 554.05L1130.52 554.05L1133.43 549.00L1130.52 543.95L1136.35 543.95ZM1173.46 547.10L1176.37 552.15L1182.20 552.15L1179.29 557.20L1182.20 562.25L1176.37 562.25L1173.46 567.30L1170.54 562.25L1164.71 562.25L1167.62 557.20L1164.71 552.15L1170.54 552.15ZM1207.65 551.10L1210.56 556.15L1216.39 556.15L1213.48 561.20L1216.39 566.25L1210.56 566.25L1207.65 571.30L1204.73 566.25L1198.90 566.25L1201.82 561.20L1198.90 556.15L1204.73 556.15ZM1241.84 556.70L1244.76 561.75L1250.59 561.75L1247.67 566.80L1250.59 571.85L1244.76 571.85L1241.84 576.90L1238.92 571.85L1233.09 571.85L1236.01 566.80L1233.09 561.75L1238.92 561.75ZM1276.03 552.20L1278.95 557.25L1284.78 557.25L1281.86 562.30L1284.78 567.35L1278.95 567.35L1276.03 572.40L1273.12 567.35L1267.29 567.35L1270.20 562.30L1267.29 557.25L1273.12 557.25ZM1310.22 571.60L1313.14 576.65L1318.97 576.65L1316.06 581.70L1318.97 586.75L1313.14 586.75L1310.22 591.80L1307.31 586.75L1301.48 586.75L1304.39 581.70L1301.48 576.65L1307.31 576.65ZM1344.42 575.50L1347.33 580.55L1353.16 580.55L1350.25 585.60L1353.16 590.65L1347.33 590.65L1344.42 595.70L1341.50 590.65L1335.67 590.65L1338.58 585.60L1335.67 580.55L1341.50 580.55ZM1378.61 581.70L1381.52 586.75L1387.35 586.75L1384.44 591.80L1387.35 596.85L1381.52 596.85L1378.61 601.90L1375.69 596.85L1369.86 596.85L1372.78 591.80L1369.86 586.75L1375.69 586.75ZM1412.80 589.50L1415.72 594.55L1421.55 594.55L1418.63 599.60L1421.55 604.65L1415.72 604.65L1412.80 609.70L1409.88 604.65L1404.05 604.65L1406.97 599.60L1404.05 594.55L1409.88 594.55ZM1446.99 595.70L1449.91 600.75L1455.74 600.75L1452.82 605.80L1455.74 610.85L1449.91 610.85L1446.99 615.90L1444.08 610.85L1438.25 610.85L1441.16 605.80L1438.25 600.75L1444.08 600.75ZM1481.18 605.80L1484.10 610.85L1489.93 610.85L1487.02 615.90L1489.93 620.95L1484.10 620.95L1481.18 626.00L1478.27 620.95L1472.44 620.95L1475.35 615.90L1472.44 610.85L1478.27 610.85ZM1515.38 618.20L1518.29 623.25L1524.12 623.25L1521.21 628.30L1524.12 633.35L1518.29 633.35L1515.38 638.40L1512.46 633.35L1506.63 633.35L1509.54 628.30L1506.63 623.25L1512.46 623.25ZM1549.57 633.00L1552.48 638.05L1558.31 638.05L1555.40 643.10L1558.31 648.15L1552.48 648.15L1549.57 653.20L1546.65 648.15L1540.82 648.15L1543.74 643.10L1540.82 638.05L1546.65 638.05ZM1583.76 663.90L1586.68 668.95L1592.51 668.95L1589.59 674.00L1592.51 679.05L1586.68 679.05L1583.76 684.10L1580.84 679.05L1575.01 679.05L1577.93 674.00L1575.01 668.95L1580.84 668.95ZM1617.95 691.20L1620.87 696.25L1626.70 696.25L1623.78 701.30L1626.70 706.35L1620.87 706.35L1617.95 711.40L1615.04 706.35L1609.21 706.35L1612.12 701.30L1609.21 696.25L1615.04 696.25ZM1652.14 725.20L1655.06 730.25L1660.89 730.25L1657.98 735.30L1660.89 740.35L1655.06 740.35L1652.14 745.40L1649.23 740.35L1643.40 740.35L1646.31 735.30L1643.40 730.25L1649.23 730.25ZM1686.34 763.40L1689.25 768.45L1695.08 768.45L1692.17 773.50L1695.08 778.55L1689.25 778.55L1686.34 783.60L1683.42 778.55L1677.59 778.55L1680.50 773.50L1677.59 768.45L1683.42 768.45ZM1720.53 800.70L1723.44 805.75L1729.27 805.75L1726.36 810.80L1729.27 815.85L1723.44 815.85L1720.53 820.90L1717.61 815.85L1711.78 815.85L1714.70 810.80L1711.78 805.75L1717.61 805.75ZM1754.72 841.50L1757.64 846.55L1763.47 846.55L1760.55 851.60L1763.47 856.65L1757.64 856.65L1754.72 861.70L1751.80 856.65L1745.97 856.65L1748.89 851.60L1745.97 846.55L1751.80 846.55ZM1788.91 889.90L1791.83 894.95L1797.66 894.95L1794.74 900.00L1797.66 905.05L1791.83 905.05L1788.91 910.10L1786.00 905.05L1780.17 905.05L1783.08 900.00L1780.17 894.95L1786.00 894.95ZM1823.10 947.40L1826.02 952.45L1831.85 952.45L1828.94 957.50L1831.85 962.55L1826.02 962.55L1823.10 967.60L1820.19 962.55L1814.36 962.55L1817.27 957.50L1814.36 952.45L1820.19 952.45ZM1857.30 1007.90L1860.21 1012.95L1866.04 1012.95L1863.13 1018.00L1866.04 1023.05L1860.21 1023.05L1857.30 1028.10L1854.38 1023.05L1848.55 1023.05L1851.46 1018.00L1848.55 1012.95L1854.38 1012.95ZM1891.49 1074.90L1894.40 1079.95L1900.23 1079.95L1897.32 1085.00L1900.23 1090.05L1894.40 1090.05L1891.49 1095.10L1888.57 1090.05L1882.74 1090.05L1885.66 1085.00L1882.74 1079.95L1888.57 1079.95ZM1925.68 1143.20L1928.60 1148.25L1934.43 1148.25L1931.51 1153.30L1934.43 1158.35L1928.60 1158.35L1925.68 1163.40L1922.76 1158.35L1916.93 1158.35L1919.85 1153.30L1916.93 1148.25L1922.76 1148.25ZM1959.87 1334.60L1962.79 1339.65L1968.62 1339.65L1965.70 1344.70L1968.62 1349.75L1962.79 1349.75L1959.87 1354.80L1956.96 1349.75L1951.13 1349.75L1954.04 1344.70L1951.13 1339.65L1956.96 1339.65ZM1994.06 1445.40L1996.98 1450.45L2002.81 1450.45L1999.90 1455.50L2002.81 1460.55L1996.98 1460.55L1994.06 1465.60L1991.15 1460.55L1985.32 1460.55L1988.23 1455.50L1985.32 1450.45L1991.15 1450.45ZM2028.26 1545.80L2031.17 1550.85L2037.00 1550.85L2034.09 1555.90L2037.00 1560.95L2031.17 1560.95L2028.26 1566.00L2025.34 1560.95L2019.51 1560.95L2022.42 1555.90L2019.51 1550.85L2025.34 1550.85Z" fill="none" stroke="#00008c" stroke-width="3.5"/>
<rect x="462" y="821" width="533" height="924.5" fill="#fff" stroke="#5a5a5a" stroke-width="3"/>
<path d="M503.5 911.2H648.5" stroke="#4f9e72" stroke-width="3"/>
<path d="M575.70 891.20L598.90 931.20L552.50 931.20Z" fill="none" stroke="#006a33" stroke-width="5.0"/>
<text x="687.60" y="929.00" font-size="77" transform="translate(687.60 0) scale(0.9205 1) translate(-687.60 0)"><tspan font-style="italic">T</tspan><tspan dy="17.5" font-size="52">p</tspan><tspan dy="-17.5" fill="#555">=</tspan>73 K</text>
<path d="M503.5 1019.5H648.5" stroke="#4f9e72" stroke-width="3"/>
<path d="M549.20 1019.45H602.20M575.70 992.25V1046.65" fill="none" stroke="#006a33" stroke-width="5.5"/>
<text x="687.60" y="1037.25" font-size="77" transform="translate(687.60 0) scale(0.9205 1) translate(-687.60 0)"><tspan font-style="italic">T</tspan><tspan dy="17.5" font-size="52">p</tspan><tspan dy="-17.5" fill="#555">=</tspan>97 K</text>
<path d="M503.5 1127.7H648.5" stroke="#ff9955" stroke-width="3"/>
<path d="M575.70 1147.70L598.90 1107.70L552.50 1107.70Z" fill="none" stroke="#ff6600" stroke-width="5.0"/>
<text x="687.61" y="1145.50" font-size="77" transform="translate(687.61 0) scale(0.9185 1) translate(-687.61 0)"><tspan font-style="italic">T</tspan><tspan dy="17.5" font-size="52">p</tspan><tspan dy="-17.5" fill="#555">=</tspan>121 K</text>
<path d="M503.5 1236.0H648.5" stroke="#c266e0" stroke-width="3"/>
<path d="M551.20 1210.25H600.20V1261.65H551.20Z" fill="none" stroke="#9900cc" stroke-width="5.0"/>
<text x="687.61" y="1253.75" font-size="77" transform="translate(687.61 0) scale(0.9185 1) translate(-687.61 0)"><tspan font-style="italic">T</tspan><tspan dy="17.5" font-size="52">p</tspan><tspan dy="-17.5" fill="#555">=</tspan>145 K</text>
<path d="M503.5 1344.2H648.5" stroke="#bbff55" stroke-width="3"/>
<path d="M575.70 1319.20L582.92 1331.70L597.35 1331.70L590.13 1344.20L597.35 1356.70L582.92 1356.70L575.70 1369.20L568.48 1356.70L554.05 1356.70L561.27 1344.20L554.05 1331.70L568.48 1331.70Z" fill="none" stroke="#99ff00" stroke-width="3.6"/>
<text x="687.61" y="1362.00" font-size="77" transform="translate(687.61 0) scale(0.9185 1) translate(-687.61 0)"><tspan font-style="italic">T</tspan><tspan dy="17.5" font-size="52">p</tspan><tspan dy="-17.5" fill="#555">=</tspan>193 K</text>
<path d="M503.5 1452.5H648.5" stroke="#808080" stroke-width="4"/>
<path d="M575.70 1432.45L598.90 1472.45L552.50 1472.45Z" fill="none" stroke="#000000" stroke-width="5.0"/>
<text x="687.61" y="1470.25" font-size="77" transform="translate(687.61 0) scale(0.9185 1) translate(-687.61 0)"><tspan font-style="italic">T</tspan><tspan dy="17.5" font-size="52">p</tspan><tspan dy="-17.5" fill="#555">=</tspan>249 K</text>
<path d="M503.5 1560.7H648.5" stroke="#ff66ff" stroke-width="3"/>
<path d="M575.70 1580.70L598.90 1540.70L552.50 1540.70Z" fill="none" stroke="#ff00ff" stroke-width="5.0"/>
<text x="687.61" y="1578.50" font-size="77" transform="translate(687.61 0) scale(0.9185 1) translate(-687.61 0)"><tspan font-style="italic">T</tspan><tspan dy="17.5" font-size="52">p</tspan><tspan dy="-17.5" fill="#555">=</tspan>291 K</text>
<path d="M503.5 1669.0H648.5" stroke="#6a6abf" stroke-width="3"/>
<path d="M575.70 1643.95L582.92 1656.45L597.35 1656.45L590.13 1668.95L597.35 1681.45L582.92 1681.45L575.70 1693.95L568.48 1681.45L554.05 1681.45L561.27 1668.95L554.05 1656.45L568.48 1656.45Z" fill="none" stroke="#00008c" stroke-width="3.6"/>
<text x="687.61" y="1686.75" font-size="77" transform="translate(687.61 0) scale(0.9185 1) translate(-687.61 0)"><tspan font-style="italic">T</tspan><tspan dy="17.5" font-size="52">p</tspan><tspan dy="-17.5" fill="#555">=</tspan>333 K</text>
<rect x="1087" y="1306" width="751.3" height="430" fill="#fff" stroke="#5a5a5a" stroke-width="3"/>
<text x="1249.97" y="1386.00" font-size="93" font-weight="bold" transform="translate(1249.97 0) scale(0.9330 1) translate(-1249.97 0)">Zn-SiO<tspan dy="20" font-size="62">2</tspan><tspan dy="-20">/Si</tspan></text>
<text x="1116.41" y="1478.50" font-size="62" transform="translate(1116.41 0) scale(0.9950 1) translate(-1116.41 0)"><tspan font-weight="bold">Ion dose:</tspan> 7.5 × 10<tspan dy="-23" font-size="35">16</tspan><tspan dy="23"> ion/cm</tspan><tspan dy="-23" font-size="35">2</tspan></text>
<text x="1182.96" y="1548.40" font-size="62" transform="translate(1182.96 0) scale(1.0189 1) translate(-1182.96 0)"><tspan font-weight="bold">Ion energy:</tspan> 150 keV</text>
<text x="1309.22" y="1629.80" font-size="62" transform="translate(1309.22 0) scale(0.9960 1) translate(-1309.22 0)"><tspan font-style="italic" font-size="72">T</tspan><tspan dy="14" font-size="42">impl</tspan><tspan dy="-14">=773 K</tspan></text>
<text x="1311.18" y="1719.80" font-size="62" transform="translate(1311.18 0) scale(1.0199 1) translate(-1311.18 0)">nonannealed</text>
</g></svg></body></html>
